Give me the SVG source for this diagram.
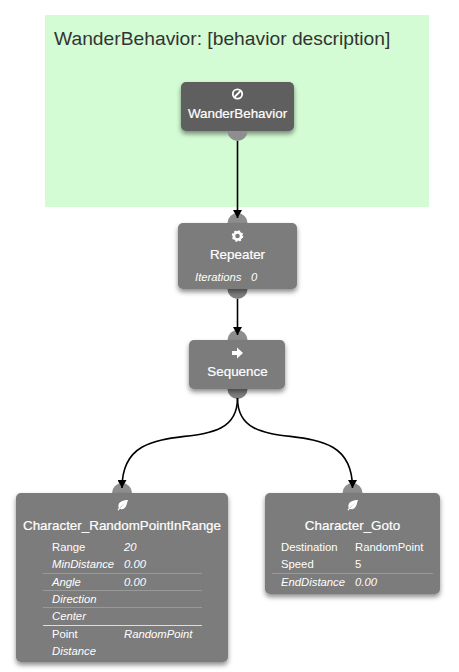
<svg xmlns="http://www.w3.org/2000/svg" width="459" height="672" viewBox="0 0 459 672">
<style>
text{font-family:"Liberation Sans",Arial,sans-serif;fill:#fff}
.box{fill:#7b7b7b}
.root{fill:#5f5f5f}
.port{fill:#8e8e8e}
.portb{fill:#808080}
.t{font-size:13.400px;text-anchor:middle;stroke:#fff;stroke-width:.2}
.p{font-size:11.300px}
.i{font-style:italic}
.d{stroke:#999;stroke-width:1}
.c{fill:none;stroke:#000;stroke-width:1.6;marker-end:url(#arrow)}
.ic{fill:#fff}
</style>
<defs>
<marker id="arrow" markerUnits="userSpaceOnUse" markerWidth="10" markerHeight="9" refX="8" refY="4.500" orient="auto"><path d="M0 0L8 4.500L0 9Z" fill="#000"/></marker>
<filter id="sh" x="-10%" y="-10%" width="120%" height="130%"><feDropShadow dx="0" dy="3" stdDeviation="2.500" flood-color="#000" flood-opacity=".45"/></filter>
<path id="leaf" d="M5.500-5.500C1-5.500-3.500-4-4-0.500C-4.300 1-4 2-3.700 2.500L-5 4.500L-4 5L-2.700 3.300C0 4.500 3 3 4-0.500C4.600-2.500 5-4 5.500-5.500ZM2.500-3L-2.500 2.500L-2.800 2.200Z"/>
</defs>
<rect x="45" y="15" width="384" height="192" fill="#d4fcd4"/>
<text x="54" y="45" style="font-size:19.250px;fill:#333">WanderBehavior: [behavior description]</text>
<g id="node-wander">
<rect class="root" x="181" y="82" width="113" height="49" rx="5" filter="url(#sh)"/>
<path class="port" d="M227.500 131a10 10 0 0 0 20 0Z"/>
<circle cx="237.500" cy="94" r="4.700" fill="none" stroke="#fff" stroke-width="1.800"/>
<path d="M234.500 97L240.500 91" stroke="#fff" stroke-width="1.800"/>
<text class="t" x="237.500" y="118">WanderBehavior</text>
</g>
<g id="node-repeater">
<path class="port" d="M227.500 223a10 10 0 0 1 20 0Z"/>
<path class="portb" d="M227.500 289a10 10 0 0 0 20 0Z"/>
<rect class="box" x="178" y="223" width="119" height="66" rx="5" filter="url(#sh)"/>
<circle cx="237.500" cy="236" r="3.600" fill="none" stroke="#fff" stroke-width="2.600"/>
<circle cx="237.500" cy="236" r="5" fill="none" stroke="#fff" stroke-width="1.500" stroke-dasharray="2 1.930"/>
<text class="t" x="237.500" y="259">Repeater</text>
<text class="p i" x="195" y="281">Iterations</text>
<text class="p i" x="251" y="281">0</text>
</g>
<g id="node-sequence">
<path class="port" d="M227.500 340a10 10 0 0 1 20 0Z"/>
<path class="portb" d="M227.500 389a10 10 0 0 0 20 0Z"/>
<rect class="box" x="189" y="340" width="96" height="49" rx="5" filter="url(#sh)"/>
<path class="ic" d="M232 351h5v-3.500l6 5.500l-6 5.500v-3.500h-5Z"/>
<text class="t" x="237.500" y="376">Sequence</text>
</g>
<g id="node-random">
<path class="port" d="M112 493a10 10 0 0 1 20 0Z"/>
<rect class="box" x="16" y="493" width="212" height="169" rx="5" filter="url(#sh)"/>
<use href="#leaf" class="ic" x="122.500" y="505.500"/>
<text class="t" x="122" y="530">Character_RandomPointInRange</text>
<text class="p" x="52" y="551">Range</text><text class="p i" x="124" y="551">20</text>
<text class="p i" x="52" y="568">MinDistance</text><text class="p i" x="124" y="568">0.00</text>
<line class="d" x1="43" y1="573.500" x2="202" y2="573.500"/>
<text class="p i" x="52" y="586">Angle</text><text class="p i" x="124" y="586">0.00</text>
<line class="d" x1="43" y1="590.500" x2="202" y2="590.500"/>
<text class="p i" x="52" y="603">Direction</text>
<line class="d" x1="43" y1="607.500" x2="202" y2="607.500"/>
<text class="p i" x="52" y="620">Center</text>
<line x1="43" y1="625.500" x2="202" y2="625.500" stroke="#ddd"/>
<text class="p" x="52" y="638">Point</text><text class="p i" x="124" y="638">RandomPoint</text>
<text class="p i" x="52" y="655">Distance</text>
</g>
<g id="node-goto">
<path class="port" d="M342.500 493a10 10 0 0 1 20 0Z"/>
<rect class="box" x="265" y="493" width="175" height="101" rx="5" filter="url(#sh)"/>
<use href="#leaf" class="ic" x="352.500" y="505.500"/>
<text class="t" x="352.500" y="530">Character_Goto</text>
<text class="p" x="281" y="551">Destination</text><text class="p" x="355" y="551">RandomPoint</text>
<text class="p" x="281" y="568">Speed</text><text class="p" x="355" y="568">5</text>
<line class="d" x1="272" y1="573.500" x2="433" y2="573.500"/>
<text class="p i" x="281" y="586">EndDistance</text><text class="p i" x="355" y="586">0.00</text>
</g>
<g id="connectors">
<path class="c" d="M237.500 141V218"/>
<path class="c" d="M237.500 299V335"/>
<path class="c" d="M237.500 398C237.500 465 122 405 122 488"/>
<path class="c" d="M237.500 398C237.500 465 352.500 405 352.500 488"/>
</g>
</svg>
